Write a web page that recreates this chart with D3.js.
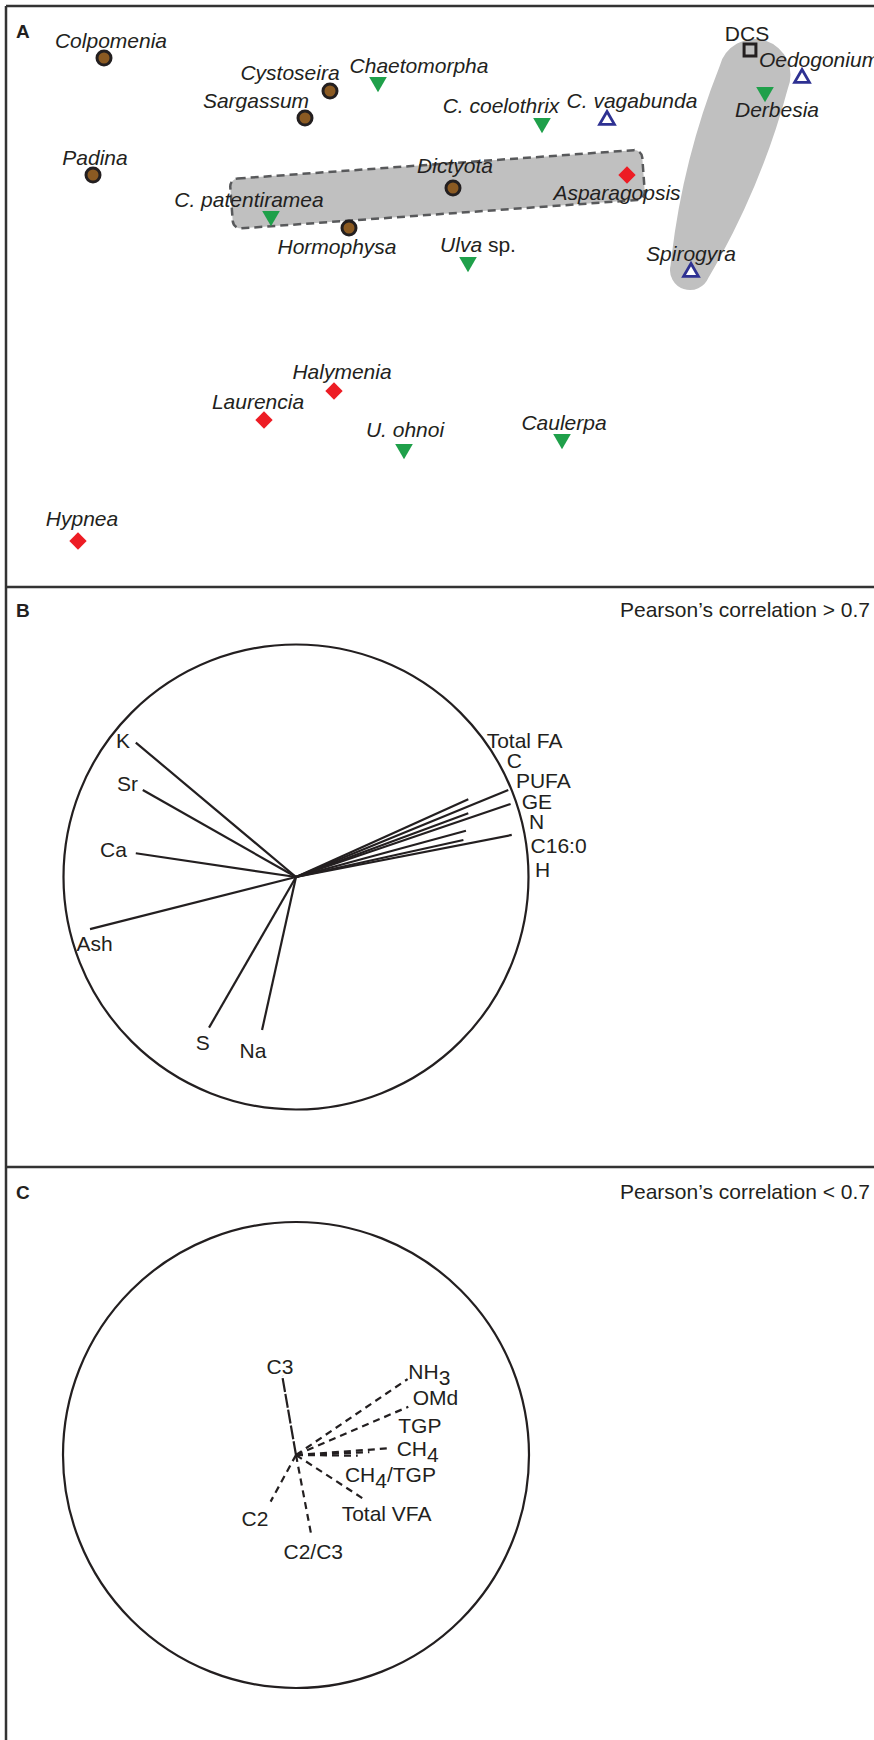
<!DOCTYPE html>
<html>
<head>
<meta charset="utf-8">
<script src="https://cdn.jsdelivr.net/npm/d3@7"></script>
<style>
  body { margin: 0; background: #fff; }
  svg { display: block; font-family: "Liberation Sans", Arial, Helvetica, sans-serif; }
</style>
</head>
<body>
<div id="chart"></div>
<script>
// ---- panel A: sample scores
var species = ["Colpomenia", "Cystoseira", "Chaetomorpha", "Sargassum", "Padina", "C. patentiramea",
    "Hormophysa", "Halymenia", "Laurencia", "C. coelothrix", "C. vagabunda", "DCS", "Oedogonium",
    "Derbesia", "Dictyota", "Asparagopsis", "Ulva sp.", "Spirogyra", "Caulerpa", "U. ohnoi", "Hypnea"];
var groups = ["brown", "brown", "green", "brown", "brown", "green",
    "brown", "red", "red", "green", "fresh", "dcs", "fresh",
    "green", "brown", "red", "green", "fresh", "green", "green", "red"];
var scoreX = [-3.36, -1.10, -0.62, -1.35, -3.47, -1.69, -0.91, -1.06, -1.76, 1.02, 1.67, 3.10, 3.62,
    3.25, 0.13, 1.87, 0.28, 2.51, 1.22, -0.36, -3.62];
var scoreY = [2.42, 2.09, 2.18, 1.82, 1.25, 0.84, 0.72, -0.91, -1.20, 1.77, 1.80, 2.50, 2.22,
    2.08, 1.12, 1.25, 0.38, 0.28, -1.39, -1.49, -2.41];
// groupings drawn as shaded areas
var rectGroup = [[-2.085, 0.96], [2.035, 1.255]];
var tearGroup = ["DCS", "Derbesia", "Spirogyra"];

// ---- panel B: loadings, |r| > 0.7
var varsB = ["K", "Sr", "Ca", "Ash", "S", "Na", "Total FA", "C", "PUFA", "GE", "N", "C16:0", "H"];
var loadBx = [-0.689, -0.659, -0.689, -0.886, -0.374, -0.146, 0.741, 0.913, 0.741, 0.923, 0.731, 0.720, 0.928];
var loadBy = [0.578, 0.374, 0.102, -0.224, -0.648, -0.658, 0.334, 0.374, 0.274, 0.314, 0.199, 0.159, 0.181];

// ---- panel C: loadings, |r| < 0.7
var varsC = ["C3", "NH_3", "OMd", "TGP", "CH_4", "CH_4/TGP", "Total VFA", "C2", "C2/C3"];
var loadCx = [-0.059, 0.479, 0.482, 0.315, 0.401, 0.265, 0.286, -0.109, 0.067];
var loadCy = [0.339, 0.326, 0.207, 0.012, 0.029, -0.003, -0.186, -0.200, -0.351];

// label placement (layout only)
var labelA = { // dx, dy from marker to label centre / baseline
  "Colpomenia": [7, -10], "Cystoseira": [-40, -11], "Chaetomorpha": [41, -9], "Sargassum": [-49, -10],
  "Padina": [2, -10], "C. patentiramea": [-22, -9], "Hormophysa": [-12, 26], "Halymenia": [8, -12],
  "Laurencia": [-6, -11], "C. coelothrix": [-41, -10], "C. vagabunda": [25, -12], "DCS": [-3, -9],
  "Oedogonium": [17, -11], "Derbesia": [12, 25], "Dictyota": [2, -15], "Asparagopsis": [-10, 25],
  "Ulva sp.": [10, -10], "Spirogyra": [0, -11], "Caulerpa": [2, -9], "U. ohnoi": [1, -12], "Hypnea": [4, -15]
};
var labelB = [[-0.714, 0.589, "end"], [-0.680, 0.404, "end"], [-0.727, 0.120, "end"], [-0.866, -0.284, "middle"],
  [-0.401, -0.710, "middle"], [-0.185, -0.744, "middle"], [0.820, 0.589, "start"], [0.906, 0.500, "start"],
  [0.946, 0.417, "start"], [0.971, 0.327, "start"], [1.002, 0.237, "start"], [1.009, 0.135, "start"],
  [1.028, 0.034, "start"]];
var labelC = [[-0.069, 0.379, "middle"], [0.482, 0.358, "start"], [0.501, 0.246, "start"], [0.439, 0.129, "start"],
  [0.432, 0.029, "start"], [0.210, -0.083, "start"], [0.196, -0.250, "start"], [-0.176, -0.272, "middle"],
  [0.074, -0.415, "middle"]];

var W = 874, H = 1740;
var ink = "#231f20";
var svg = d3.select("#chart").append("svg").attr("width", W).attr("height", H);

// ---------- frame
var frame = svg.append("g").attr("stroke", "#333").attr("stroke-width", 2.5).attr("fill", "none");
frame.append("line").attr("x1", 6).attr("x2", W).attr("y1", 6).attr("y2", 6);
frame.append("line").attr("x1", 6).attr("x2", 6).attr("y1", 6).attr("y2", H);
[587, 1167].forEach(function (y) {
    frame.append("line").attr("x1", 6).attr("x2", W).attr("y1", y).attr("y2", y);
});

function panelLetter(t, y) {
    svg.append("text").attr("x", 16).attr("y", y).attr("font-weight", "bold")
        .attr("font-size", 19).attr("fill", ink).text(t);
}
panelLetter("A", 38);
panelLetter("B", 617);
panelLetter("C", 1199);
svg.append("text").attr("x", 870).attr("y", 617).attr("text-anchor", "end").attr("font-size", 21)
    .attr("fill", ink).text("Pearson\u2019s correlation > 0.7");
svg.append("text").attr("x", 870).attr("y", 1199).attr("text-anchor", "end").attr("font-size", 21)
    .attr("fill", ink).text("Pearson\u2019s correlation < 0.7");

// ---------- panel A
var x = d3.scaleLinear().domain([-4.4, 4.4]).range([0, 880]);
var y = d3.scaleLinear().domain([3, -3]).range([0, 600]);
var pts = species.map(function (s, i) {
    return { name: s, group: groups[i], px: x(scoreX[i]), py: y(scoreY[i]) };
});
var byName = {};
pts.forEach(function (p) { byName[p.name] = p; });

var gA = svg.append("g");

// dashed rounded band
var r0 = [x(rectGroup[0][0]), y(rectGroup[0][1])], r1 = [x(rectGroup[1][0]), y(rectGroup[1][1])];
var ang = Math.atan2(r1[1] - r0[1], r1[0] - r0[0]) * 180 / Math.PI;
var len = Math.hypot(r1[0] - r0[0], r1[1] - r0[1]);
gA.append("rect")
    .attr("transform", "translate(" + r0[0] + "," + r0[1] + ") rotate(" + ang + ")")
    .attr("x", 0).attr("y", -25).attr("width", len).attr("height", 50).attr("rx", 8)
    .attr("fill", "#c0c0c0").attr("stroke", "#58595b").attr("stroke-width", 2.5)
    .attr("stroke-dasharray", "8,5");

// teardrop around the freshwater / DCS group (two circles joined by bulging sides)
function teardrop(c1, rad1, c2, rad2, bulge) {
    var dx = c2[0] - c1[0], dy = c2[1] - c1[1], d = Math.hypot(dx, dy);
    var th = Math.atan2(dy, dx), a = Math.acos((rad1 - rad2) / d);
    function pt(c, r, t) { return [c[0] + r * Math.cos(t), c[1] + r * Math.sin(t)]; }
    var p1 = pt(c1, rad1, th + a), p2 = pt(c2, rad2, th + a), p3 = pt(c2, rad2, th - a), p4 = pt(c1, rad1, th - a);
    var q1 = pt([(p1[0] + p2[0]) / 2, (p1[1] + p2[1]) / 2], bulge, th + a);
    var q2 = pt([(p3[0] + p4[0]) / 2, (p3[1] + p4[1]) / 2], bulge, th - a);
    return "M" + p1 + "Q" + q1 + " " + p2 + "A" + rad2 + "," + rad2 + " 0 0 0 " + p3 +
        "Q" + q2 + " " + p4 + "A" + rad1 + "," + rad1 + " 0 1 0 " + p1 + "Z";
}
var top2 = [byName[tearGroup[0]], byName[tearGroup[1]]];
var cTop = [d3.mean(top2, function (p) { return p.px; }) - 3, d3.mean(top2, function (p) { return p.py; }) + 4];
var cBot = [byName[tearGroup[2]].px - 1, byName[tearGroup[2]].py - 2];
gA.append("path").attr("d", teardrop(cTop, 36, cBot, 20, 14)).attr("fill", "#c0c0c0");

// markers
var tri = d3.symbol(d3.symbolTriangle, 135)();
var triOpen = d3.symbol(d3.symbolTriangle, 95)();
var sq = d3.symbol(d3.symbolSquare, 150)();
var sqOpen = d3.symbol(d3.symbolSquare, 140)();

var mk = gA.selectAll("g.mk").data(pts).join("g").attr("class", "mk")
    .attr("transform", function (d) { return "translate(" + d.px + "," + d.py + ")"; });
mk.each(function (d) {
    var g = d3.select(this);
    if (d.group == "brown") {
        g.append("circle").attr("r", 7).attr("fill", "#8b5a22").attr("stroke", ink).attr("stroke-width", 3);
    } else if (d.group == "green") {
        g.append("path").attr("d", tri).attr("transform", "rotate(180)").attr("fill", "#1fa04a");
    } else if (d.group == "red") {
        g.append("path").attr("d", sq).attr("transform", "rotate(45)").attr("fill", "#ed1c24");
    } else if (d.group == "fresh") {
        g.append("path").attr("d", triOpen).attr("fill", "#fff").attr("stroke", "#2e3192").attr("stroke-width", 2.8);
    } else {
        g.append("path").attr("d", sqOpen).attr("fill", "none").attr("stroke", ink).attr("stroke-width", 3);
    }
});

// labels
pts.forEach(function (d) {
    var off = labelA[d.name];
    var t = gA.append("text").attr("x", d.px + off[0]).attr("y", d.py + off[1])
        .attr("text-anchor", "middle").attr("font-size", 21).attr("fill", ink);
    if (d.name == "DCS") {
        t.text(d.name);
    } else if (d.name == "Ulva sp.") {
        t.append("tspan").attr("font-style", "italic").text("Ulva");
        t.append("tspan").text(" sp.");
    } else {
        t.attr("font-style", "italic").text(d.name);
    }
});

// ---------- correlation circles
function addSub(t, str) {
    var parts = str.split("_");
    t.append("tspan").text(parts[0]);
    for (var i = 1; i < parts.length; i++) {
        t.append("tspan").attr("dy", "0.28em").text(parts[i][0]);
        if (parts[i].length > 1) t.append("tspan").attr("dy", "-0.28em").text(parts[i].slice(1));
    }
}

function circlePanel(cx, cy, r, names, lx, ly, labs, dashed) {
    var sx = d3.scaleLinear().domain([-1, 1]).range([cx - r, cx + r]);
    var sy = d3.scaleLinear().domain([-1, 1]).range([cy + r, cy - r]);
    var g = svg.append("g");
    g.append("circle").attr("cx", sx(0)).attr("cy", sy(0)).attr("r", sx(1) - sx(0))
        .attr("fill", "none").attr("stroke", ink).attr("stroke-width", 2.2);
    g.selectAll("line.vec").data(names).join("line").attr("class", "vec")
        .attr("x1", sx(0)).attr("y1", sy(0))
        .attr("x2", function (d, i) { return sx(lx[i]); })
        .attr("y2", function (d, i) { return sy(ly[i]); })
        .attr("stroke", ink).attr("stroke-width", 2.2)
        .attr("stroke-dasharray", dashed ? function (d) { return d == "C3" ? "14,2" : "7,5"; } : null);
    names.forEach(function (n, i) {
        var t = g.append("text").attr("x", sx(labs[i][0])).attr("y", sy(labs[i][1])).attr("dy", "0.36em")
            .attr("text-anchor", labs[i][2]).attr("font-size", 21).attr("fill", ink);
        addSub(t, n);
    });
}
circlePanel(296, 877, 232.5, varsB, loadBx, loadBy, labelB, false);
circlePanel(296, 1455, 233, varsC, loadCx, loadCy, labelC, true);
</script>
</body>
</html>
